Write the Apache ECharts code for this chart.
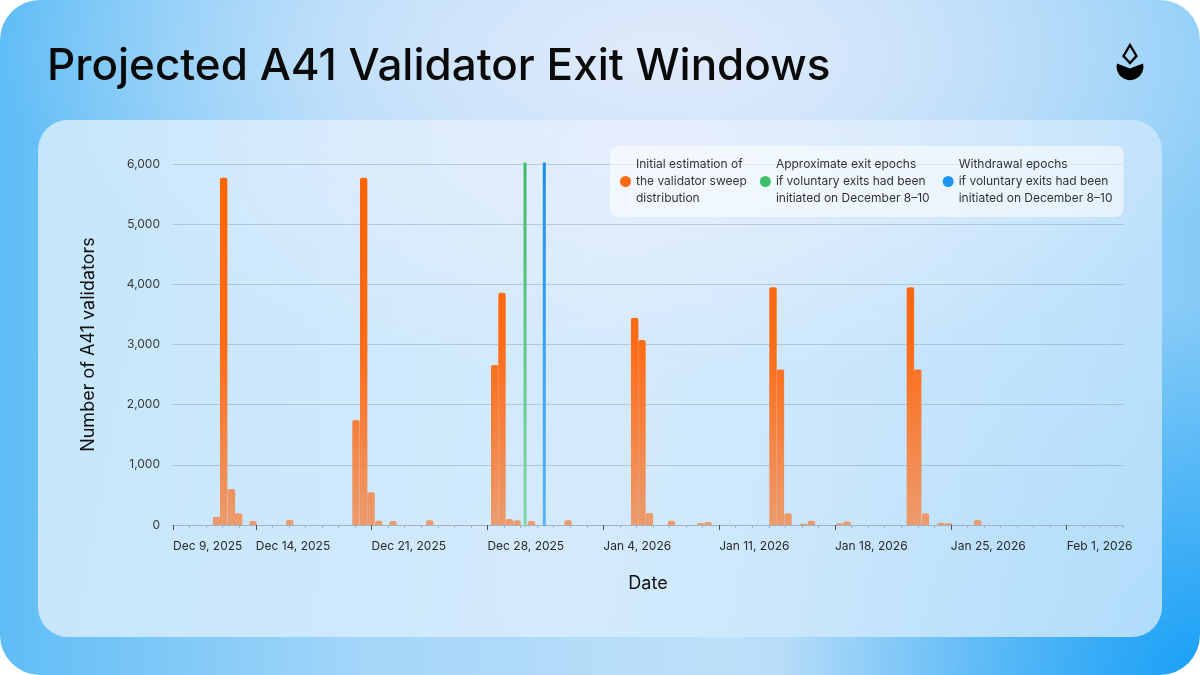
<!DOCTYPE html>
<html>
<head>
<meta charset="utf-8">
<script src="https://cdn.jsdelivr.net/npm/echarts@6/dist/echarts.min.js"></script>
<style>
  html, body { margin: 0; padding: 0; background: #ffffff; width: 1200px; height: 675px; overflow: hidden; }
  #bg {
    position: absolute; left: 0; top: 0; width: 1200px; height: 675px; border-radius: 40px;
    background:
      radial-gradient(ellipse 55% 40% at 55% 8%, rgba(224,234,251,1) 0%, rgba(224,234,251,0) 100%),
      radial-gradient(ellipse 35% 55% at 100% 100%, rgba(25,160,246,1) 0%, rgba(25,160,246,0) 100%),
      linear-gradient(90deg, #5fbdf6 0%, #a3d6f9 30%, #bfe0f9 60%, #86cbf7 100%);
  }
  #panel {
    position: absolute; left: 38px; top: 120px; width: 1124px; height: 517px; border-radius: 30px;
    background:
      radial-gradient(ellipse 50% 45% at 55% 5%, rgba(230,238,252,0.95) 0%, rgba(230,238,252,0) 100%),
      linear-gradient(100deg, rgba(203,232,252,0.95) 0%, rgba(214,235,252,0.92) 50%, rgba(188,225,250,0.92) 100%);
  }
  #chart { position: absolute; left: 0; top: 0; width: 1200px; height: 675px; }
  #logo { position: absolute; left: 1110px; top: 40px; width: 40px; height: 45px; }
</style>
</head>
<body>
<div id="bg"></div>
<div id="panel"></div>
<svg id="logo" viewBox="1110 40 40 45" xmlns="http://www.w3.org/2000/svg">
  <polygon points="1130,45 1136.5,56 1130,63 1123.5,56" fill="none" stroke="#000" stroke-width="2.4" stroke-linejoin="miter"/>
  <path d="M1117,63.5 L1130,68.5 L1143,63.5 A13.4 13.4 0 1 1 1117,63.5 Z" fill="#000"/>
</svg>
<div id="chart"></div>
<script>
// ---------------- data ----------------
const titleText = 'Projected A41 Validator Exit Windows';
const yAxisTitle = 'Number of A41 validators';
const xAxisTitle = 'Date';

const sweepName = 'Initial estimation of\nthe validator sweep\ndistribution';
const exitName = 'Approximate exit epochs\nif voluntary exits had been\ninitiated on December 8–10';
const withdrawalName = 'Withdrawal epochs\nif voluntary exits had been\ninitiated on December 8–10';

// centre time of each sweep-distribution bin (UTC)
const sweepBins = [
  '2025-12-11T15:00:00Z', '2025-12-12T01:30:00Z', '2025-12-12T12:40:00Z', '2025-12-12T23:15:00Z',
  '2025-12-13T20:00:00Z', '2025-12-16T01:15:00Z',
  '2025-12-20T01:20:00Z', '2025-12-20T12:30:00Z', '2025-12-20T23:10:00Z', '2025-12-21T10:20:00Z',
  '2025-12-22T07:00:00Z', '2025-12-24T12:15:00Z',
  '2025-12-28T10:30:00Z', '2025-12-28T21:05:00Z', '2025-12-29T07:50:00Z', '2025-12-29T18:50:00Z',
  '2025-12-30T15:45:00Z', '2026-01-01T20:50:00Z',
  '2026-01-05T21:30:00Z', '2026-01-06T08:05:00Z', '2026-01-06T18:50:00Z', '2026-01-08T02:45:00Z',
  '2026-01-09T21:15:00Z', '2026-01-10T07:50:00Z',
  '2026-01-14T06:05:00Z', '2026-01-14T16:50:00Z', '2026-01-15T03:50:00Z', '2026-01-16T02:35:00Z',
  '2026-01-16T13:45:00Z', '2026-01-18T06:50:00Z', '2026-01-18T17:25:00Z',
  '2026-01-22T13:20:00Z', '2026-01-22T23:55:00Z', '2026-01-23T11:05:00Z', '2026-01-24T09:45:00Z',
  '2026-01-24T20:55:00Z', '2026-01-26T14:55:00Z'
];
const sweepValues = [
  138, 5770, 600, 195,
  66, 83,
  1745, 5770, 545, 72,
  66, 78,
  2660, 3860, 100, 78,
  66, 78,
  3445, 3075, 200, 72,
  33, 50,
  3950, 2585, 197, 22,
  72, 28, 58,
  3950, 2585, 197, 39,
  28, 83
];

const exitEpochTime = '2025-12-30T06:30:00Z';
const withdrawalEpochTime = '2025-12-31T10:25:00Z';
const markerHeight = 6060;

const axisStart = '2025-12-09T00:00:00Z';
const axisEndDays = 57.4;
const tickLabelDates = [
  '2025-12-09T00:00:00Z', '2025-12-14T00:00:00Z', '2025-12-21T00:00:00Z', '2025-12-28T00:00:00Z',
  '2026-01-04T00:00:00Z', '2026-01-11T00:00:00Z', '2026-01-18T00:00:00Z', '2026-01-25T00:00:00Z',
  '2026-02-01T00:00:00Z'
];
const yTicks = [0, 1000, 2000, 3000, 4000, 5000, 6000];

// ---------------- chart ----------------
const DAY = 86400000;
const xMin = Date.parse(axisStart);
const xMax = xMin + axisEndDays * DAY;
const majorTicks = tickLabelDates.map(d => Date.parse(d));
const MONTHS = ['Jan','Feb','Mar','Apr','May','Jun','Jul','Aug','Sep','Oct','Nov','Dec'];
function fmtDate(v) {
  const d = new Date(v);
  return MONTHS[d.getUTCMonth()] + ' ' + d.getUTCDate() + ', ' + d.getUTCFullYear();
}
const FONT = 'Inter, "Noto Sans", sans-serif';

const chart = echarts.init(document.getElementById('chart'), null, { renderer: 'canvas' });

const gridTop = 164, gridBottomY = 525;

const option = {
  backgroundColor: 'transparent',
  animation: false,
  title: {
    text: titleText,
    left: 42, top: 40,
    textStyle: { fontFamily: FONT, fontSize: 44, fontWeight: 500, color: '#0a0a0a' }
  },
  legend: {
    left: 610, top: 146,
    orient: 'horizontal',
    icon: 'circle',
    itemWidth: 11, itemHeight: 11,
    itemGap: 13,
    padding: [10, 11, 10, 10],
    backgroundColor: 'rgba(255,255,255,0.55)',
    borderRadius: 8,
    textStyle: { fontFamily: FONT, fontSize: 12, lineHeight: 17, color: '#333333' },
    data: [
      { name: sweepName, itemStyle: { color: '#ff6a12' } },
      { name: exitName, itemStyle: { color: '#3fbf6e' } },
      { name: withdrawalName, itemStyle: { color: '#1e95f2' } }
    ]
  },
  grid: { left: 173, right: 77, top: gridTop, bottom: 675 - gridBottomY, containLabel: false },
  xAxis: [
    {
      type: 'value', min: xMin, max: xMax, interval: DAY,
      name: xAxisTitle, nameLocation: 'middle', nameGap: 50,
      nameTextStyle: { fontFamily: FONT, fontSize: 18, color: '#111111' },
      axisLine: { show: true, lineStyle: { color: '#9fb3c4', width: 1 } },
      axisTick: { show: true, length: 3, lineStyle: { color: '#9fb3c4' } },
      axisLabel: {
        customValues: majorTicks,
        formatter: fmtDate,
        align: 'left', margin: 15,
        fontFamily: FONT, fontSize: 12, color: '#2a2a2a'
      },
      splitLine: { show: false }
    },
    {
      type: 'value', min: xMin, max: xMax, position: 'bottom',
      axisLine: { show: false },
      axisTick: { show: true, customValues: majorTicks, length: 5, lineStyle: { color: '#4a5560' } },
      axisLabel: { show: false },
      splitLine: { show: false }
    }
  ],
  yAxis: {
    type: 'value', min: 0, max: 6000, interval: 1000,
    name: yAxisTitle, nameLocation: 'middle', nameRotate: 90, nameGap: 75,
    nameTextStyle: { fontFamily: FONT, fontSize: 18, color: '#111111' },
    axisLine: { show: false },
    axisTick: { show: false },
    axisLabel: {
      margin: 13, fontFamily: FONT, fontSize: 12, color: '#3a3a3a',
      formatter: v => yTicks.includes(v) ? v.toLocaleString('en-US') : ''
    },
    splitLine: { show: true, lineStyle: { color: 'rgba(95,120,145,0.3)', width: 1 } }
  },
  series: [
    {
      name: sweepName,
      type: 'bar',
      xAxisIndex: 0,
      barWidth: 7.4,
      data: sweepBins.map((t, i) => [Date.parse(t), sweepValues[i]]),
      itemStyle: {
        borderRadius: [2, 2, 0, 0],
        color: {
          type: 'linear', global: true, x: 0, y: gridTop, x2: 0, y2: gridBottomY,
          colorStops: [
            { offset: 0, color: '#ff6305' },
            { offset: 0.5, color: '#ff6b16' },
            { offset: 1, color: '#ec9b6e' }
          ]
        }
      }
    },
    {
      name: exitName,
      type: 'line',
      xAxisIndex: 0,
      symbol: 'none',
      data: [[Date.parse(exitEpochTime), 0], [Date.parse(exitEpochTime), markerHeight]],
      itemStyle: { color: '#3fbf6e' },
      lineStyle: {
        width: 3, cap: 'round',
        color: {
          type: 'linear', global: true, x: 0, y: gridTop, x2: 0, y2: gridBottomY,
          colorStops: [{ offset: 0, color: '#3cbb6b' }, { offset: 1, color: '#86d4a8' }]
        }
      }
    },
    {
      name: withdrawalName,
      type: 'line',
      xAxisIndex: 0,
      symbol: 'none',
      data: [[Date.parse(withdrawalEpochTime), 0], [Date.parse(withdrawalEpochTime), markerHeight]],
      itemStyle: { color: '#1e95f2' },
      lineStyle: {
        width: 3, cap: 'round',
        color: {
          type: 'linear', global: true, x: 0, y: gridTop, x2: 0, y2: gridBottomY,
          colorStops: [{ offset: 0, color: '#1a8ff0' }, { offset: 1, color: '#5ab3f4' }]
        }
      }
    }
  ]
};
chart.setOption(option);
</script>
</body>
</html>
